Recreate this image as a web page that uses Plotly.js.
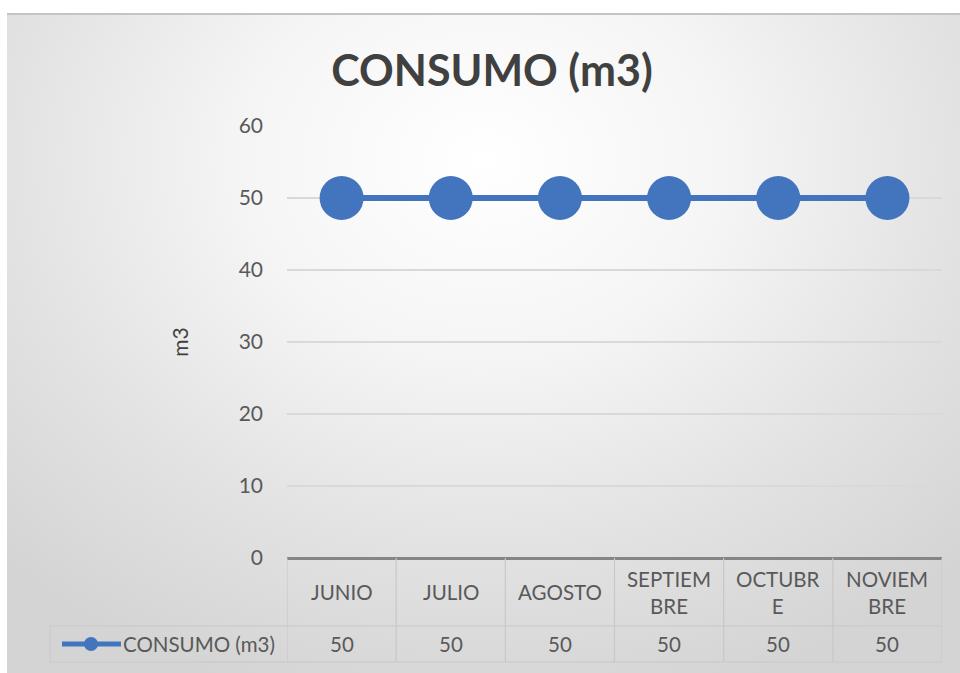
<!DOCTYPE html>
<html>
<head>
<meta charset="utf-8">
<script src="https://cdn.plot.ly/plotly-3.0.1.min.js"></script>
<style>
  html, body { margin: 0; padding: 0; background: #ffffff; width: 960px; height: 673px; overflow: hidden; }
  #frame { position: absolute; left: 7px; top: 13px; width: 953px; height: 660px;
    border-top: 2px solid #c4c4c4;
    background: radial-gradient(ellipse 72% 85% at 50% 22%, #ffffff 0%, #f5f5f5 35%, #e2e2e2 70%, #d4d4d4 100%); }
  #chart { position: absolute; left: 0; top: 0; width: 960px; height: 673px; }
</style>
</head>
<body>
<div id="frame"></div>
<div id="chart"></div>
<script>
const categories = ["JUNIO", "JULIO", "AGOSTO", "SEPTIEMBRE", "OCTUBRE", "NOVIEMBRE"];
const headerLabels = ["JUNIO", "JULIO", "AGOSTO", "SEPTIEM<br>BRE", "OCTUBR<br>E", "NOVIEM<br>BRE"];
const consumo = [50, 50, 50, 50, 50, 50];
const seriesName = "CONSUMO (m3)";
const yTicks = [0, 10, 20, 30, 40, 50, 60];

const blue = "#4374BE";
const txt = "#595959";
const font = "Lato, 'Open Sans', sans-serif";

// plot area spans pixels 287..942 horizontally and 126..558 vertically
const plotH = 432, plotW = 655;
const yp = p => (558 - p) / plotH;   // pixel -> paper y
const xp = p => (p - 287) / plotW;   // pixel -> paper x

const headerY = yp(592), valueY = yp(644);
const rowSep = yp(626), tableBottom = yp(662);

const shapes = [];
for (let i = 0; i <= categories.length; i++) {
  shapes.push({type: "line", xref: "x", yref: "paper", x0: i - 0.5, x1: i - 0.5,
    y0: 0, y1: tableBottom, line: {color: "#c8c8c8", width: 1.2}});
}
shapes.push({type: "line", xref: "paper", yref: "paper", x0: xp(50), x1: 1, y0: rowSep, y1: rowSep,
  line: {color: "#c8c8c8", width: 1.2}});
shapes.push({type: "line", xref: "paper", yref: "paper", x0: xp(50), x1: 1, y0: tableBottom, y1: tableBottom,
  line: {color: "#c8c8c8", width: 1.2}});
shapes.push({type: "line", xref: "paper", yref: "paper", x0: xp(50), x1: xp(50), y0: rowSep, y1: tableBottom,
  line: {color: "#c8c8c8", width: 1.2}});
// legend key
shapes.push({type: "line", xref: "paper", yref: "paper", x0: xp(62), x1: xp(121), y0: valueY, y1: valueY,
  line: {color: blue, width: 5}});
shapes.push({type: "circle", xref: "paper", yref: "paper", x0: xp(84), x1: xp(98),
  y0: valueY - 7 / plotH, y1: valueY + 7 / plotH, fillcolor: blue, line: {width: 0}});

const annotations = [];
categories.forEach((c, i) => {
  annotations.push({x: c, y: headerY, xref: "x", yref: "paper", text: headerLabels[i],
    xanchor: "center", yanchor: "middle",
    showarrow: false, font: {family: font, size: 20.5, color: txt}, align: "center"});
  annotations.push({x: c, y: valueY, xref: "x", yref: "paper", text: String(consumo[i]),
    xanchor: "center", yanchor: "middle",
    showarrow: false, font: {family: font, size: 20.5, color: txt}, align: "center"});
});
annotations.push({x: xp(121), y: valueY, xref: "paper", yref: "paper", text: seriesName,
  xanchor: "left", yanchor: "middle", showarrow: false, font: {family: font, size: 20.5, color: txt}});

const trace = {
  type: "scatter", mode: "lines+markers", x: categories, y: consumo, name: seriesName,
  line: {color: blue, width: 6},
  marker: {color: blue, size: 44},
  cliponaxis: false, hoverinfo: "x+y"
};

const layout = {
  width: 960, height: 673,
  margin: {l: 287, r: 18, t: 126, b: 115},
  paper_bgcolor: "rgba(0,0,0,0)", plot_bgcolor: "rgba(0,0,0,0)",
  showlegend: false,
  title: {text: "<b>CONSUMO (m3)</b>", x: 0.5125, xanchor: "center", y: 0.895, yanchor: "middle", yref: "container",
    font: {family: font, size: 43, color: "#404040"}},
  xaxis: {type: "category", range: [-0.5, 5.5], showticklabels: false, showgrid: false,
    zeroline: false, showline: false, fixedrange: true},
  yaxis: {range: [0, 60], tickvals: yTicks, showgrid: true, gridcolor: "#d9d9d9", gridwidth: 1.5,
    zeroline: true, zerolinecolor: "#858585", zerolinewidth: 3, showline: false,
    ticks: "", ticklabelstandoff: 23, tickfont: {family: font, size: 21, color: txt},
    title: {text: "m3", standoff: 44, font: {family: font, size: 21, color: "#404040"}},
    automargin: false, fixedrange: true},
  shapes: shapes,
  annotations: annotations
};

Plotly.newPlot("chart", [trace], layout, {displayModeBar: false, staticPlot: true});
</script>
</body>
</html>
